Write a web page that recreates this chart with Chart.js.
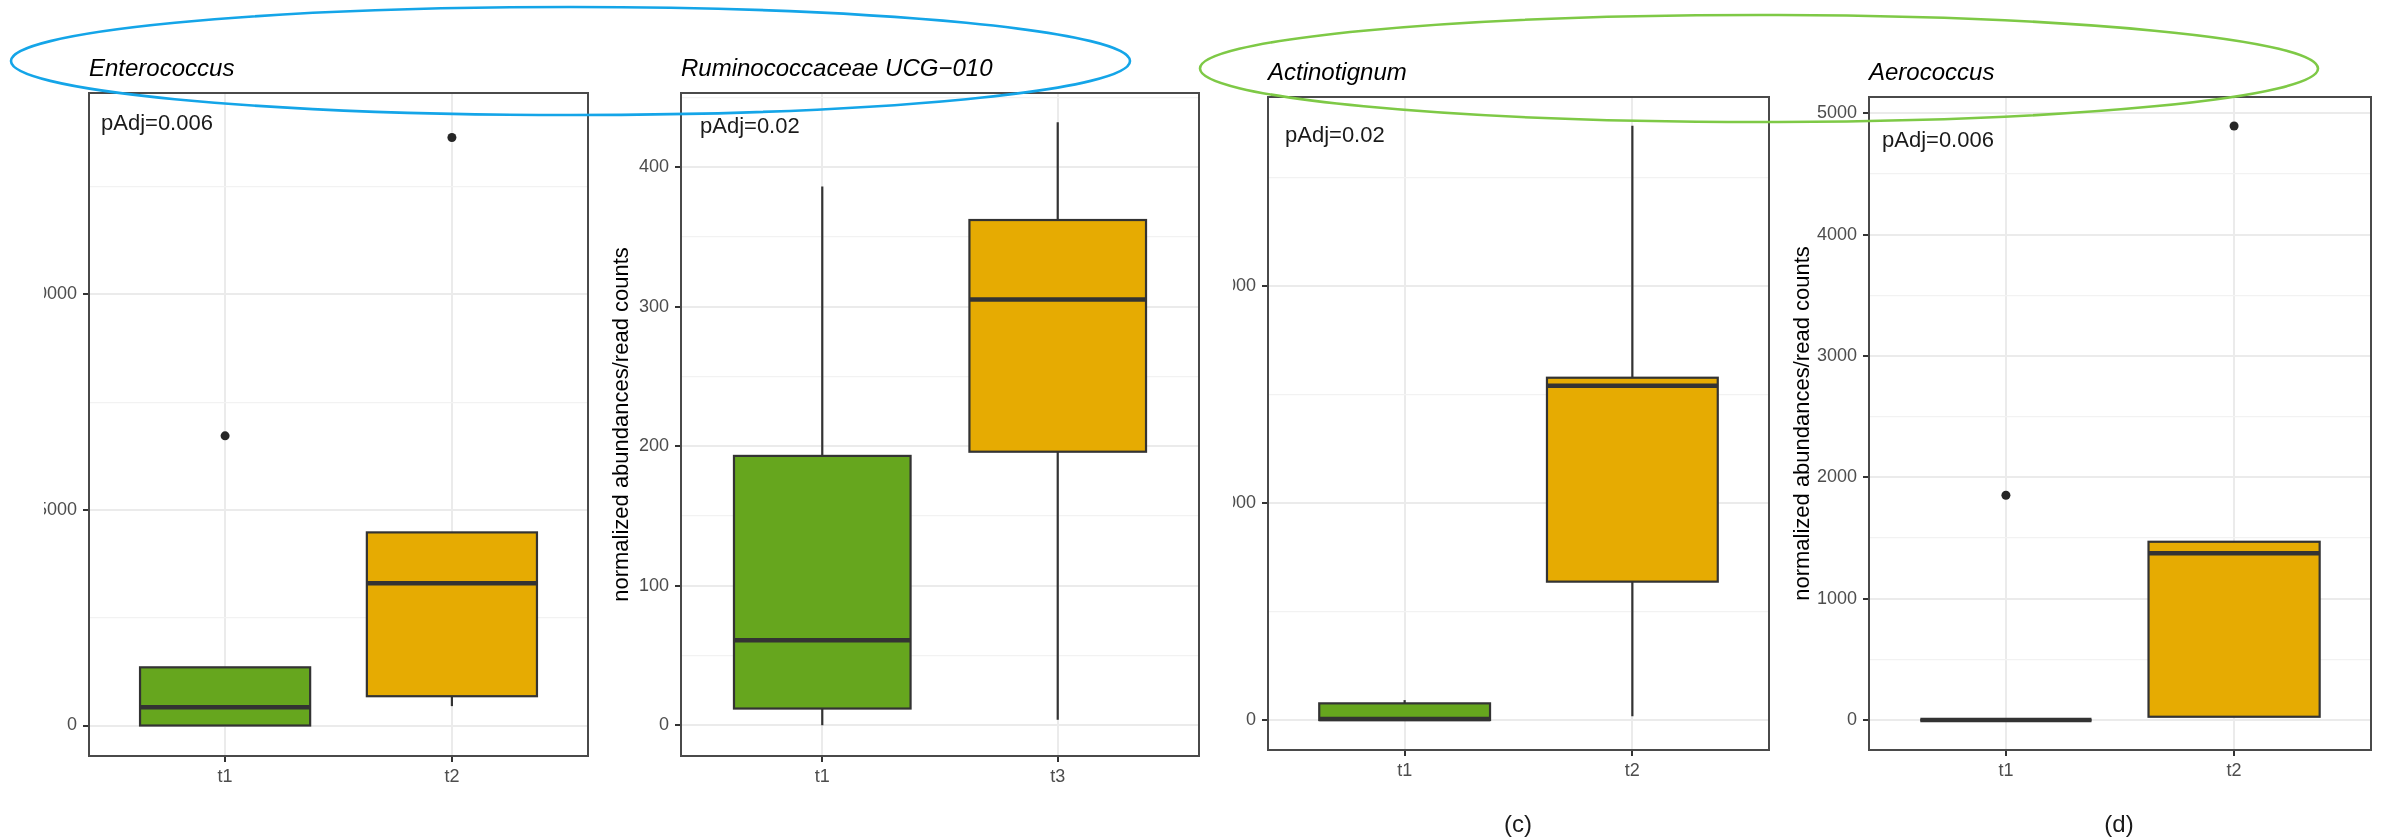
<!DOCTYPE html>
<html>
<head>
<meta charset="utf-8">
<script src="https://cdn.jsdelivr.net/npm/chart.js@4.4.1/dist/chart.umd.min.js"></script>
<style>
  html, body { margin: 0; padding: 0; background: #fff; }
  body { width: 2384px; height: 839px; position: relative; overflow: hidden; }
  canvas { position: absolute; top: 0; }
  svg { position: absolute; left: 0; top: 0; pointer-events: none; }
</style>
</head>
<body>
<canvas id="enterococcus" width="556" height="839" style="left:44px"></canvas>
<canvas id="ruminococcaceae" width="610" height="839" style="left:600px"></canvas>
<canvas id="actinotignum" width="547" height="839" style="left:1233px"></canvas>
<canvas id="aerococcus" width="604" height="839" style="left:1780px"></canvas>
<svg width="2384" height="839">
  <ellipse cx="570.5" cy="61" rx="559.5" ry="54" fill="none" stroke="#14a5e8" stroke-width="2.6"/>
  <ellipse cx="1759" cy="68.5" rx="559" ry="53.5" fill="none" stroke="#7ec946" stroke-width="2.6"/>
</svg>
<script>
// ---- Enterococcus (t1 vs t2) ----
const enteroCats = ['t1', 't2'];
const enteroLow = [0, 450];
const enteroQ1 = [0, 680];
const enteroMed = [425, 3300];
const enteroQ3 = [1350, 4480];
const enteroHigh = [1350, 4480];
const enteroOutliers = [[6720], [13640]];
const enteroTicks = [0, 5000, 10000];
const enteroRange = [-707, 14673];

// ---- Ruminococcaceae UCG-010 (t1 vs t3) ----
const rumiCats = ['t1', 't3'];
const rumiLow = [0, 4];
const rumiQ1 = [12, 196];
const rumiMed = [61, 305];
const rumiQ3 = [193, 362];
const rumiHigh = [386, 432];
const rumiOutliers = [[], []];
const rumiTicks = [0, 100, 200, 300, 400];
const rumiRange = [-22, 453];

// ---- Actinotignum (t1 vs t2) ----
const actinoCats = ['t1', 't2'];
const actinoLow = [0, 18];
const actinoQ1 = [0, 638];
const actinoMed = [5, 1541];
const actinoQ3 = [77, 1578];
const actinoHigh = [92, 2739];
const actinoOutliers = [[], []];
const actinoTicks = [0, 1000, 2000];
const actinoRange = [-138, 2872];

// ---- Aerococcus (t1 vs t2) ----
const aeroCats = ['t1', 't2'];
const aeroLow = [0, 27];
const aeroQ1 = [0, 27];
const aeroMed = [0, 1374];
const aeroQ3 = [0, 1469];
const aeroHigh = [0, 1469];
const aeroOutliers = [[1852], [4895]];
const aeroTicks = [0, 1000, 2000, 3000, 4000, 5000];
const aeroRange = [-247, 5134];

const FONT = '"Liberation Sans", Arial, Helvetica, sans-serif';
const FILLS = ['#66a61e', '#e6ab02'];
const INK = '#333333';
const BOX_WIDTH = 0.75;
const Y_TITLE = 'normalized abundances/read counts';

// Box, whiskers and median drawn through the chart's own scales
const boxPlot = {
  id: 'boxPlot',
  beforeDatasetsDraw(chart, _args, o) {
    const { ctx, scales: { x, y } } = chart;
    const half = x.getPixelForValue(1 + BOX_WIDTH / 2) - x.getPixelForValue(1);
    ctx.save();
    ctx.strokeStyle = INK;
    o.q1.forEach((_, i) => {
      const cx = x.getPixelForValue(i + 1);
      const yl = y.getPixelForValue(o.low[i]);
      const y1 = y.getPixelForValue(o.q1[i]);
      const ym = y.getPixelForValue(o.med[i]);
      const y3 = y.getPixelForValue(o.q3[i]);
      const yh = y.getPixelForValue(o.high[i]);
      ctx.lineWidth = 2.2;
      ctx.beginPath();
      ctx.moveTo(cx, yh); ctx.lineTo(cx, y3);
      ctx.moveTo(cx, y1); ctx.lineTo(cx, yl);
      ctx.stroke();
      ctx.fillStyle = FILLS[i];
      ctx.fillRect(cx - half, y3, 2 * half, y1 - y3);
      ctx.strokeRect(cx - half, y3, 2 * half, y1 - y3);
      ctx.lineWidth = 4.5;
      ctx.beginPath();
      ctx.moveTo(cx - half, ym); ctx.lineTo(cx + half, ym);
      ctx.stroke();
    });
    ctx.restore();
  },
  afterDatasetsDraw(chart) {
    const { ctx, chartArea: a } = chart;
    ctx.save();
    ctx.strokeStyle = '#4a4a4a';
    ctx.lineWidth = 2;
    ctx.strokeRect(a.left, a.top, a.right - a.left, a.bottom - a.top);
    ctx.restore();
  }
};

// Panel title, p-value note, y-axis title and sub-figure caption
const panelText = {
  id: 'panelText',
  afterDraw(chart, _args, o) {
    const { ctx, chartArea: a } = chart;
    ctx.save();
    ctx.textAlign = 'left';
    ctx.textBaseline = 'alphabetic';
    ctx.fillStyle = '#000';
    ctx.font = `italic 24px ${FONT}`;
    ctx.fillText(o.title, a.left, a.top - 17);
    ctx.fillStyle = '#1a1a1a';
    ctx.font = `22px ${FONT}`;
    ctx.fillText(o.note, o.noteX, o.noteY);
    if (o.caption) {
      ctx.textAlign = 'center';
      ctx.textBaseline = 'middle';
      ctx.font = `24px ${FONT}`;
      ctx.fillText(o.caption, o.captionX, 825);
    }
    if (o.yTitle) {
      ctx.translate(o.yTitleX, (a.top + a.bottom) / 2);
      ctx.rotate(-Math.PI / 2);
      ctx.textAlign = 'center';
      ctx.textBaseline = 'alphabetic';
      ctx.fillStyle = '#000';
      ctx.font = `22px ${FONT}`;
      ctx.fillText(o.yTitle, 0, 0);
    }
    ctx.restore();
  }
};

function minorBreaks(ticks, range) {
  const step = ticks[1] - ticks[0];
  const out = [];
  for (let v = ticks[0] - step / 2; v <= ticks[ticks.length - 1] + step; v += step) {
    if (v > range[0] && v < range[1]) out.push(v);
  }
  return out;
}

function makePanel(id, p) {
  const minors = minorBreaks(p.ticks, p.range);
  const all = p.ticks.concat(minors).sort((a, b) => a - b);
  const isMajor = (v) => p.ticks.includes(v);
  const points = p.outliers.flatMap((vals, i) => vals.map(v => ({ x: i + 1, y: v })));
  return new Chart(document.getElementById(id), {
    type: 'scatter',
    data: {
      datasets: [{
        data: points,
        pointRadius: 4.5,
        pointBackgroundColor: '#262626',
        pointBorderWidth: 0,
        pointHoverRadius: 4.5
      }]
    },
    plugins: [boxPlot, panelText],
    options: {
      responsive: false,
      animation: false,
      devicePixelRatio: 1,
      events: [],
      layout: { padding: p.padding },
      plugins: {
        legend: { display: false },
        tooltip: { enabled: false },
        boxPlot: { low: p.low, q1: p.q1, med: p.med, q3: p.q3, high: p.high },
        panelText: p.text
      },
      scales: {
        x: {
          type: 'linear',
          min: 0.4,
          max: 2.6,
          bounds: 'data',
          afterBuildTicks: (s) => { s.ticks = p.cats.map((_, i) => ({ value: i + 1 })); },
          afterFit: (s) => { s.height = 40; },
          border: { display: false },
          grid: { color: '#ebebeb', lineWidth: 2, tickColor: INK, tickWidth: 2, tickLength: 6 },
          ticks: {
            autoSkip: false, maxRotation: 0, minRotation: 0, padding: 4,
            color: '#4d4d4d', font: { family: FONT, size: 18 },
            callback: (v, i) => p.cats[i]
          }
        },
        y: {
          type: 'linear',
          min: p.range[0],
          max: p.range[1],
          bounds: 'data',
          afterBuildTicks: (s) => { s.ticks = all.map(v => ({ value: v })); },
          afterFit: (s) => { s.width = p.yWidth; },
          border: { display: false },
          grid: {
            color: (c) => (c.tick && isMajor(c.tick.value)) ? '#ebebeb' : '#f2f2f2',
            lineWidth: (c) => (c.tick && isMajor(c.tick.value)) ? 2 : 1.2,
            tickColor: (c) => (c.tick && isMajor(c.tick.value)) ? INK : 'rgba(0,0,0,0)',
            tickWidth: 2,
            tickLength: 6
          },
          ticks: {
            autoSkip: false, padding: 6,
            color: '#4d4d4d', font: { family: FONT, size: 18 },
            callback: (v) => isMajor(v) ? String(v) : ''
          }
        }
      }
    }
  });
}

makePanel('enterococcus', {
  cats: enteroCats, low: enteroLow, q1: enteroQ1, med: enteroMed, q3: enteroQ3, high: enteroHigh,
  outliers: enteroOutliers, ticks: enteroTicks, range: enteroRange,
  yWidth: 45, padding: { top: 93, right: 12, bottom: 43, left: 0 },
  text: { title: 'Enterococcus', note: 'pAdj=0.006', noteX: 57, noteY: 130 }
});

makePanel('ruminococcaceae', {
  cats: rumiCats, low: rumiLow, q1: rumiQ1, med: rumiMed, q3: rumiQ3, high: rumiHigh,
  outliers: rumiOutliers, ticks: rumiTicks, range: rumiRange,
  yWidth: 81, padding: { top: 93, right: 11, bottom: 43, left: 0 },
  text: { title: 'Ruminococcaceae UCG\u2212010', note: 'pAdj=0.02', noteX: 100, noteY: 133,
          yTitle: Y_TITLE, yTitleX: 28 }
});

makePanel('actinotignum', {
  cats: actinoCats, low: actinoLow, q1: actinoQ1, med: actinoMed, q3: actinoQ3, high: actinoHigh,
  outliers: actinoOutliers, ticks: actinoTicks, range: actinoRange,
  yWidth: 35, padding: { top: 97, right: 11, bottom: 49, left: 0 },
  text: { title: 'Actinotignum', note: 'pAdj=0.02', noteX: 52, noteY: 142,
          caption: '(c)', captionX: 285 }
});

makePanel('aerococcus', {
  cats: aeroCats, low: aeroLow, q1: aeroQ1, med: aeroMed, q3: aeroQ3, high: aeroHigh,
  outliers: aeroOutliers, ticks: aeroTicks, range: aeroRange,
  yWidth: 89, padding: { top: 97, right: 13, bottom: 49, left: 0 },
  text: { title: 'Aerococcus', note: 'pAdj=0.006', noteX: 102, noteY: 147,
          yTitle: Y_TITLE, yTitleX: 29, caption: '(d)', captionX: 339 }
});
</script>
</body>
</html>
